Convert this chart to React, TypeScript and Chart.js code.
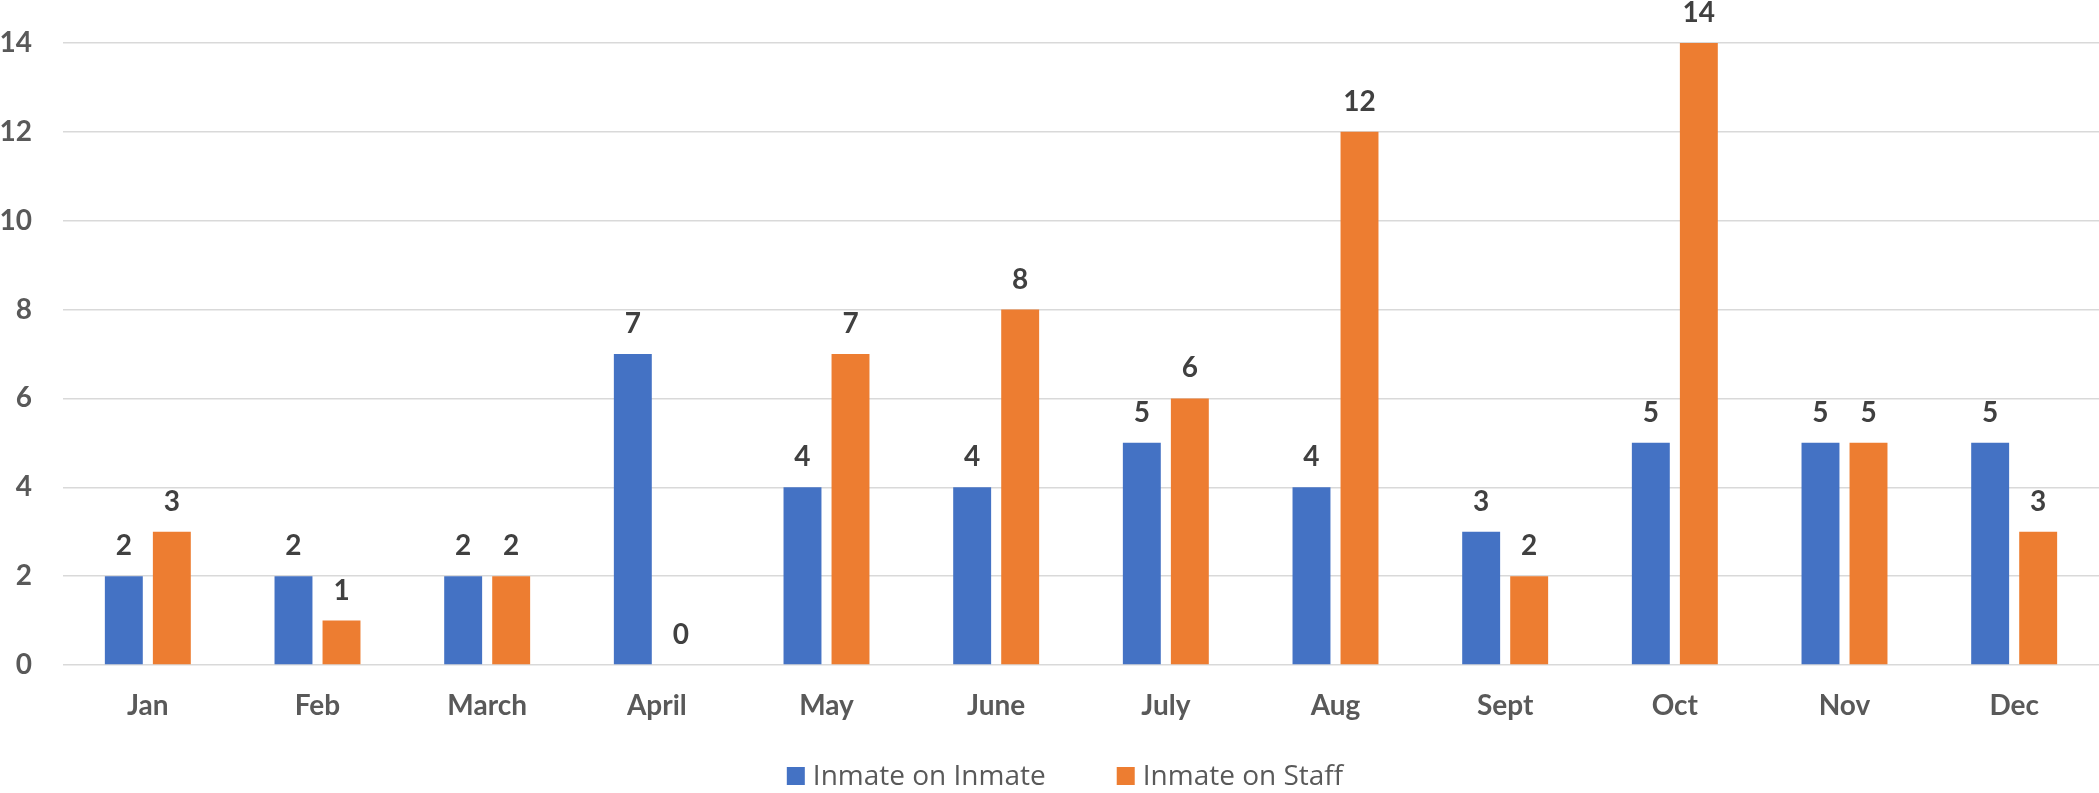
import React, { useEffect, useRef } from "react";
import { Chart, registerables } from "chart.js";

Chart.register(...registerables);

const months = ["Jan", "Feb", "March", "April", "May", "June", "July", "Aug", "Sept", "Oct", "Nov", "Dec"];
const inmateOnInmate = [2, 2, 2, 7, 4, 4, 5, 4, 3, 5, 5, 5];
const inmateOnStaff = [3, 1, 2, 0, 7, 8, 6, 12, 2, 14, 5, 3];
const seriesNames = ["Inmate on Inmate", "Inmate on Staff"];
const seriesColors = ["#4472C4", "#ED7D31"];
const yMin = 0;
const yMax = 14;
const yStep = 2;

const FONT = "Lato, 'Open Sans', sans-serif";
const LEGEND_FONT = "'Open Sans', Lato, sans-serif";

const dataLabels = {
  id: "dataLabels",
  afterDatasetsDraw(chart: any) {
    const ctx = chart.ctx;
    ctx.save();
    ctx.font = `bold 28px ${FONT}`;
    ctx.fillStyle = "#404040";
    ctx.textAlign = "center";
    ctx.textBaseline = "middle";
    chart.data.datasets.forEach((ds: any, i: number) => {
      const meta = chart.getDatasetMeta(i);
      meta.data.forEach((bar: any, j: number) => {
        ctx.fillText(String(ds.data[j]), bar.x, bar.y - 30);
      });
    });
    ctx.restore();
  },
};

const customLegend = {
  id: "customLegend",
  afterDraw(chart: any) {
    const ctx = chart.ctx;
    ctx.save();
    ctx.font = `28px ${LEGEND_FONT}`;
    ctx.textBaseline = "middle";
    ctx.textAlign = "left";
    const box = 18;
    const gapBoxText = 8;
    const gapItems = 71;
    const widths = chart.data.datasets.map((ds: any) => ctx.measureText(ds.label).width);
    let total = 0;
    widths.forEach((w: number, i: number) => {
      total += box + gapBoxText + w + (i < widths.length - 1 ? gapItems : 0);
    });
    const centerX = 1065;
    const cy = 776;
    let x = centerX - total / 2;
    chart.data.datasets.forEach((ds: any, i: number) => {
      ctx.fillStyle = ds.backgroundColor;
      ctx.fillRect(x, cy - box / 2, box, box);
      x += box + gapBoxText;
      ctx.fillStyle = "#595959";
      ctx.fillText(ds.label, x, cy + 1);
      x += widths[i] + gapItems;
    });
    ctx.restore();
  },
};

export default function App() {
  const canvasRef = useRef<HTMLCanvasElement | null>(null);

  useEffect(() => {
    document.body.style.margin = "0";
    const canvas = canvasRef.current;
    if (!canvas) return;
    const chart = new Chart(canvas, {
      type: "bar",
      data: {
        labels: months,
        datasets: [
          {
            label: seriesNames[0],
            data: inmateOnInmate,
            backgroundColor: seriesColors[0],
            categoryPercentage: 0.566,
            barPercentage: 0.79,
          },
          {
            label: seriesNames[1],
            data: inmateOnStaff,
            backgroundColor: seriesColors[1],
            categoryPercentage: 0.566,
            barPercentage: 0.79,
          },
        ],
      },
      options: {
        animation: false,
        responsive: true,
        maintainAspectRatio: false,
        layout: { padding: { top: 43, right: 0, left: 0, bottom: 0 } },
        plugins: {
          legend: { display: false },
          tooltip: { enabled: false },
        },
        scales: {
          x: {
            grid: { display: false, drawTicks: false },
            border: { display: false },
            ticks: {
              font: { family: FONT, size: 28, weight: "bold" },
              color: "#595959",
              padding: 24,
            },
            afterFit(scale: any) {
              scale.height = 128;
            },
          },
          y: {
            min: yMin,
            max: yMax,
            grid: {
              color: "#d9d9d9",
              lineWidth: 1.5,
              drawTicks: true,
              tickLength: 31,
              tickColor: "rgba(0,0,0,0)",
            },
            border: { display: false },
            ticks: {
              stepSize: yStep,
              font: { family: FONT, size: 28, weight: "bold" },
              color: "#595959",
              padding: 0,
            },
            afterFit(scale: any) {
              scale.width = 63;
            },
          },
        },
      },
      plugins: [dataLabels, customLegend],
    });
    return () => chart.destroy();
  }, []);

  return (
    <div style={{ width: "2099px", height: "793px", position: "relative" }}>
      <canvas ref={canvasRef} />
    </div>
  );
}
